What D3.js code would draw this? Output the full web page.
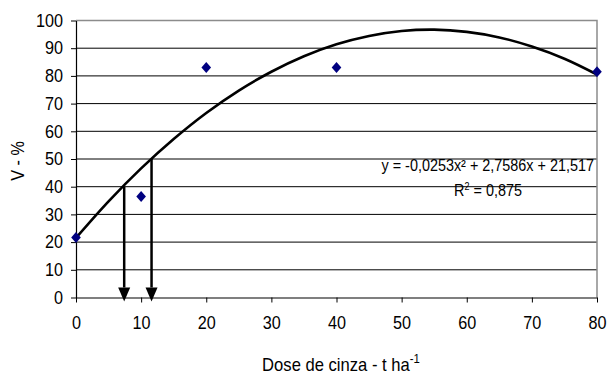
<!DOCTYPE html>
<html>
<head>
<meta charset="utf-8">
<script src="https://cdn.jsdelivr.net/npm/d3@7"></script>
<style>
  body { margin: 0; background: #fff; }
  svg { display: block; font-family: "Liberation Sans", Arial, sans-serif; }
</style>
</head>
<body>
<svg id="chart" width="608" height="376"></svg>
<script>
// observed points
const doses = [0, 10, 20, 40, 80];
const vValues = [21.7, 36.5, 83.0, 83.0, 81.5];

// trend curve
const curveX = [0, 5, 10, 15, 20, 25, 30, 35, 40, 45, 50, 55, 60, 65, 70, 75, 80];
const curveY = [21.5, 34.7, 46.6, 57.2, 66.6, 74.7, 81.5, 87.1, 91.4, 94.4, 96.2, 96.7, 95.9, 93.9, 90.6, 86.2, 80.5];

// arrows dropped from the curve
const arrowX = [7.4, 11.6];
const arrowY = [40, 50];

const xTicks = [0, 10, 20, 30, 40, 50, 60, 70, 80];
const yTicks = [0, 10, 20, 30, 40, 50, 60, 70, 80, 90, 100];

const equationText = "y = -0,0253x\u00B2 + 2,7586x + 21,517";

const plot = {left: 76, right: 597, top: 20.5, bottom: 297.5};
const squeeze = 0.9;

const svg = d3.select('#chart');

const xScale = d3.scaleLinear().domain([0, 80]).range([plot.left, plot.right]);
const yScale = d3.scaleLinear().domain([0, 100]).range([plot.bottom, plot.top]);

// gridlines
svg.append('g')
    .selectAll('line')
    .data(yTicks.filter(d => d > 0 && d < 100))
    .join('line')
    .attr('x1', plot.left)
    .attr('x2', plot.right)
    .attr('y1', d => yScale(d))
    .attr('y2', d => yScale(d))
    .style('stroke', '#000')
    .style('stroke-width', 1);

// plot area border top / right
svg.append('path')
    .attr('d', `M${plot.left},${plot.top}H${plot.right}V${plot.bottom}`)
    .style('fill', 'none')
    .style('stroke', '#8c8c8c')
    .style('stroke-width', 1.5);

// axes
const yAxis = svg.append('g')
    .attr('transform', `translate(${plot.left},0)`)
    .call(d3.axisLeft(yScale).tickValues(yTicks).tickSize(5).tickPadding(8).tickSizeOuter(0));

const xAxis = svg.append('g')
    .attr('transform', `translate(0,${plot.bottom})`)
    .call(d3.axisBottom(xScale).tickValues(xTicks).tickSize(5).tickPadding(14).tickSizeOuter(0));

[xAxis, yAxis].forEach(ax => {
    ax.select('.domain').style('stroke', '#000').style('stroke-width', 1.2);
    ax.selectAll('.tick line').style('stroke', '#000');
    ax.selectAll('text')
        .style('font-family', '"Liberation Sans", Arial, sans-serif')
        .style('font-size', '18px')
        .style('fill', '#000');
});

yAxis.selectAll('text')
    .attr('x', -13 / squeeze)
    .attr('transform', `scale(${squeeze},1)`);
xAxis.selectAll('text')
    .attr('transform', `scale(${squeeze},1)`);

// trend curve
const line = d3.line()
    .x(d => xScale(d[0]))
    .y(d => yScale(d[1]))
    .curve(d3.curveCatmullRom);

svg.append('path')
    .datum(curveX.map((x, i) => [x, curveY[i]]))
    .attr('d', line)
    .style('fill', 'none')
    .style('stroke', '#000')
    .style('stroke-width', 2.6);

// arrows
svg.append('g')
    .selectAll('line')
    .data(arrowX.map((x, i) => [x, arrowY[i]]))
    .join('line')
    .attr('x1', d => xScale(d[0]))
    .attr('x2', d => xScale(d[0]))
    .attr('y1', d => yScale(d[1]))
    .attr('y2', plot.bottom - 10)
    .style('stroke', '#000')
    .style('stroke-width', 2.5);

svg.append('g')
    .selectAll('path')
    .data(arrowX)
    .join('path')
    .attr('d', d => `M${xScale(d) - 6},${plot.bottom - 10}h12l-6,14z`)
    .style('fill', '#000');

// data points
svg.append('g')
    .selectAll('path')
    .data(doses.map((x, i) => [x, vValues[i]]))
    .join('path')
    .attr('transform', d => `translate(${xScale(d[0])},${yScale(d[1])})`)
    .attr('d', 'M0,-5.5L4.8,0L0,5.5L-4.8,0Z')
    .style('fill', '#000080');

// equation + R²
svg.append('text')
    .attr('transform', `translate(594,171) scale(${squeeze},1)`)
    .style('text-anchor', 'end')
    .style('font-size', '16px')
    .text(equationText);

const r2 = svg.append('text')
    .attr('transform', `translate(488,196) scale(${squeeze},1)`)
    .style('text-anchor', 'middle')
    .style('font-size', '16px');
r2.append('tspan').text('R');
r2.append('tspan').attr('dy', -6).style('font-size', '10px').text('2');
r2.append('tspan').attr('dy', 6).text(' = 0,875');

// axis titles
svg.append('text')
    .attr('transform', `translate(24,161) rotate(-90) scale(${squeeze},1)`)
    .style('text-anchor', 'middle')
    .style('font-size', '18px')
    .text('V  -  %');

const xt = svg.append('text')
    .attr('transform', `translate(341,371) scale(0.95,1)`)
    .style('text-anchor', 'middle')
    .style('font-size', '17.5px');
xt.append('tspan').text('Dose de cinza - t ha');
xt.append('tspan').attr('dy', -8).style('font-size', '12px').text('-1');
</script>
</body>
</html>
